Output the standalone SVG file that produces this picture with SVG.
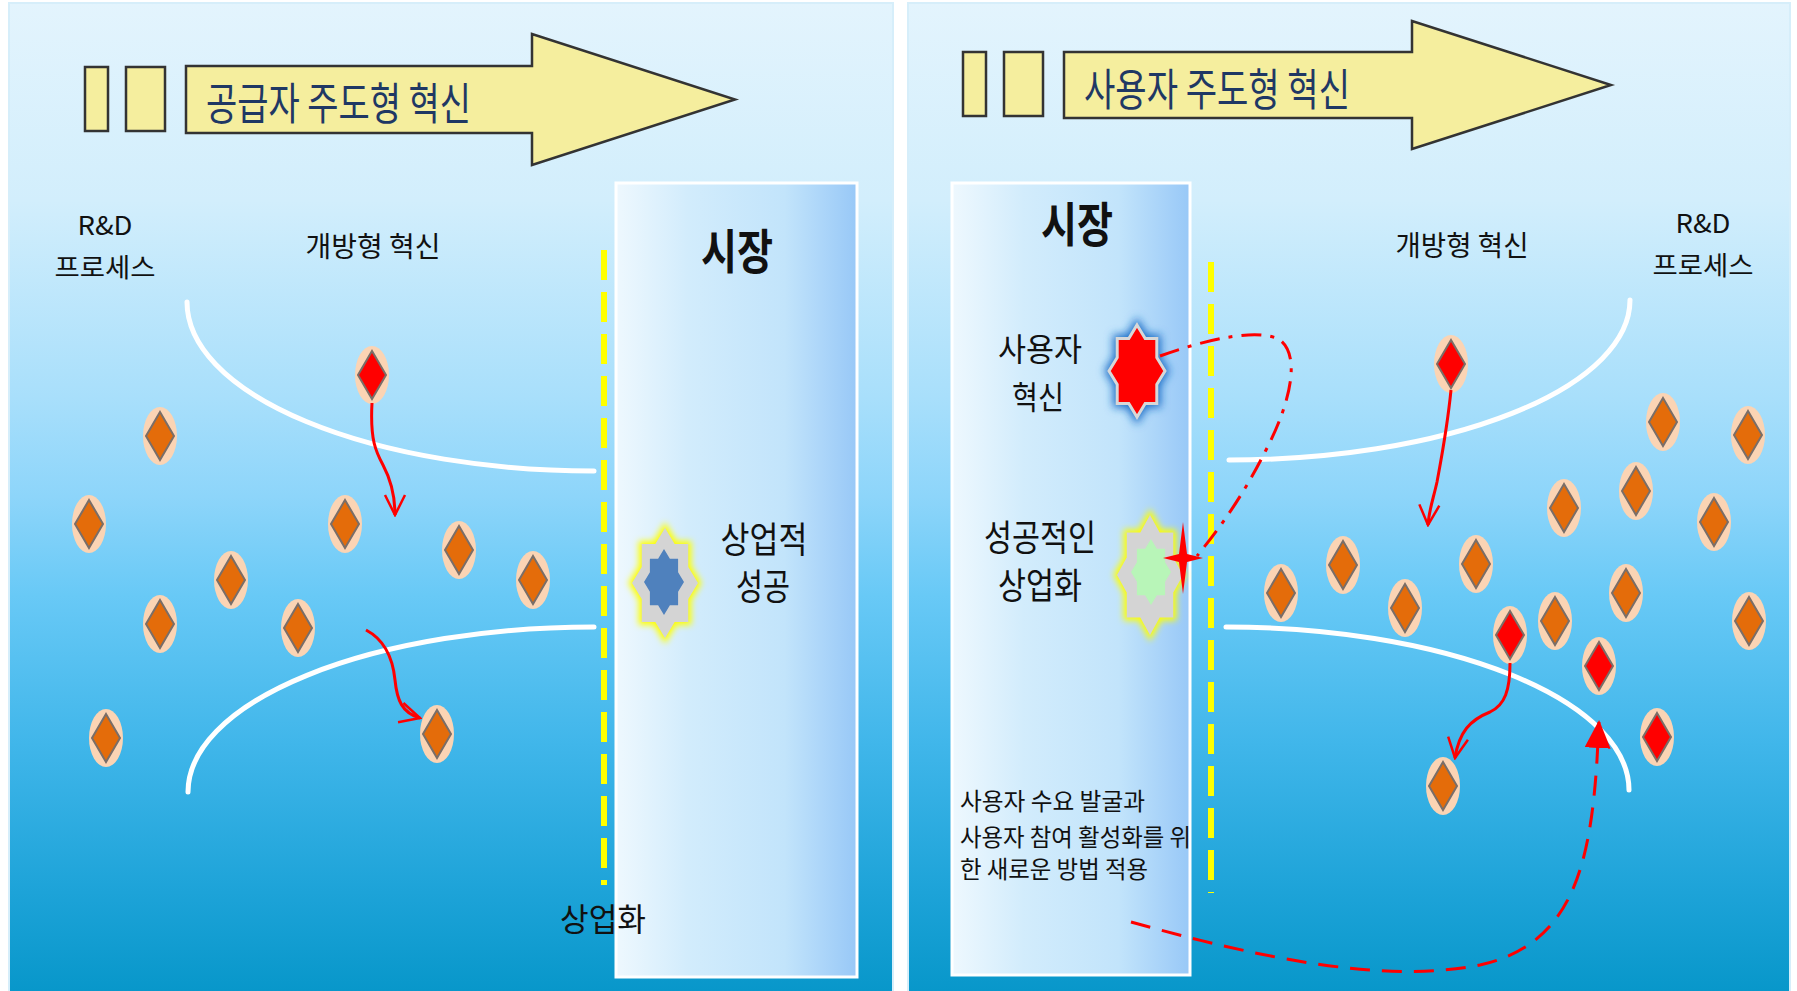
<svg xmlns="http://www.w3.org/2000/svg" xmlns:xlink="http://www.w3.org/1999/xlink" width="1797" height="991" viewBox="0 0 1797 991">
  <style>
    text { font-family: "Noto Sans CJK KR", "Noto Sans", sans-serif; fill: #111; }
    .title { font-size: 44px; fill: #1f3864; }
    .label { font-size: 26px; }
    .mid { font-size: 28px; }
    .big { font-size: 48px; font-weight: bold; }
    .node { font-size: 36px; }
    .note { font-size: 24px; }
    .banner { fill: #f5ee9e; stroke: #333; stroke-width: 2.5; stroke-linejoin: miter; }
    .arc { fill: none; stroke: #fff; stroke-width: 5; stroke-linecap: round; }
    .gate { stroke: #ffff00; stroke-width: 6; stroke-dasharray: 30 12; fill: none; }
    .flow { fill: none; stroke: #ff0000; stroke-width: 3; }
  </style>
  <defs>
    <linearGradient id="sky" x1="0" y1="3" x2="0" y2="991" gradientUnits="userSpaceOnUse">
      <stop offset="0" stop-color="#e3f4fd"/>
      <stop offset="0.2" stop-color="#d2eefc"/>
      <stop offset="0.4" stop-color="#a8dffb"/>
      <stop offset="0.5" stop-color="#8dd5fa"/>
      <stop offset="0.6" stop-color="#68c9f6"/>
      <stop offset="0.75" stop-color="#40b6ea"/>
      <stop offset="0.9" stop-color="#1da3d8"/>
      <stop offset="1" stop-color="#0897ca"/>
    </linearGradient>
    <linearGradient id="market" x1="0" y1="0" x2="1" y2="0">
      <stop offset="0" stop-color="#eef8fe"/>
      <stop offset="0.3" stop-color="#d2ecfc"/>
      <stop offset="0.7" stop-color="#c2e4fb"/>
      <stop offset="1" stop-color="#98c8f7"/>
    </linearGradient>
    <filter id="soft" x="-50%" y="-50%" width="200%" height="200%">
      <feGaussianBlur stdDeviation="3"/>
    </filter>
    <filter id="softer" x="-50%" y="-50%" width="200%" height="200%">
      <feGaussianBlur stdDeviation="4.5"/>
    </filter>
    <g id="dOrange">
      <ellipse rx="17" ry="29" fill="#fbd4b4"/>
      <path d="M0,-24 L14,0 L0,24 L-14,0Z" fill="#e46c0a" stroke="#7a6e68" stroke-width="2"/>
    </g>
    <g id="dRed">
      <ellipse rx="17" ry="29" fill="#fbd4b4"/>
      <path d="M0,-24 L14,0 L0,24 L-14,0Z" fill="#ff0000" stroke="#7a6e68" stroke-width="2"/>
    </g>
    <marker id="vee" viewBox="0 0 24 24" refX="22" refY="12" markerWidth="24" markerHeight="24" markerUnits="userSpaceOnUse" orient="auto">
      <path d="M2,2 L22,12 L2,22" fill="none" stroke="#ff0000" stroke-width="2.5"/>
    </marker>
    <marker id="tri" viewBox="0 0 28 26" refX="26" refY="13" markerWidth="28" markerHeight="26" markerUnits="userSpaceOnUse" orient="auto">
      <path d="M0,0 L28,13 L0,26Z" fill="#ff0000"/>
    </marker>
  </defs>

  <rect width="1797" height="991" fill="#fff"/>

  <!-- two panels -->
  <rect x="9" y="3" width="884" height="990" fill="url(#sky)" stroke="#d6eefa" stroke-width="2"/>
  <rect x="908" y="3" width="882" height="990" fill="url(#sky)" stroke="#d6eefa" stroke-width="2"/>

  <!-- ===== left panel: supplier-led ===== -->
  <g id="banner-supplier">
    <rect class="banner" x="85" y="67" width="23" height="64"/>
    <rect class="banner" x="126" y="67" width="39" height="64"/>
    <polygon class="banner" points="186,66 532,66 532,34 735,99.5 532,165 532,133 186,133"/>
    <text class="title" x="206" y="120" textLength="265" lengthAdjust="spacingAndGlyphs">공급자 주도형 혁신</text>
  </g>

  <g id="rd-left">
    <text class="label" x="105" y="235" text-anchor="middle" textLength="55" lengthAdjust="spacingAndGlyphs">R&amp;D</text>
    <text class="label" x="105" y="277" text-anchor="middle" textLength="101" lengthAdjust="spacingAndGlyphs">프로세스</text>
  </g>
  <g id="open-left">
    <text class="mid" x="373" y="257" text-anchor="middle" textLength="135" lengthAdjust="spacingAndGlyphs">개방형 혁신</text>
  </g>

  <g id="funnel-left">
    <path class="arc" d="M187,302 A407,169 0 0 0 594,471"/>
    <path class="arc" d="M188,792 A406,165 0 0 1 594,627"/>
  </g>

  <g id="market-left">
    <rect x="616" y="183" width="241" height="794" fill="url(#market)" stroke="#fff" stroke-width="3"/>
    <text class="big" x="737" y="269" text-anchor="middle" textLength="72" lengthAdjust="spacingAndGlyphs">시장</text>
  </g>

  <g id="gate-left">
    <line class="gate" x1="604" y1="250" x2="604" y2="885"/>
    <text class="mid" x="603" y="931" text-anchor="middle" textLength="86" lengthAdjust="spacingAndGlyphs" style="font-size:32px">상업화</text>
  </g>

  <g id="success-left">
    <polygon points="665,528 674.7,544.1 688.3,544.1 688.3,566.9 698,583 688.3,599.1 688.3,621.9 674.7,621.9 665,638 655.3,621.9 641.7,621.9 641.7,599.1 632,583 641.7,566.9 641.7,544.1 655.3,544.1" fill="#ffff00" stroke="#ffff00" stroke-width="6" filter="url(#soft)"/>
    <polygon points="665,528 674.7,544.1 688.3,544.1 688.3,566.9 698,583 688.3,599.1 688.3,621.9 674.7,621.9 665,638 655.3,621.9 641.7,621.9 641.7,599.1 632,583 641.7,566.9 641.7,544.1 655.3,544.1" fill="#d4d4d4"/>
    <polygon points="664,549 669.9,558.7 678.1,558.7 678.1,572.3 684,582 678.1,591.7 678.1,605.3 669.9,605.3 664,615 658.1,605.3 649.9,605.3 649.9,591.7 644,582 649.9,572.3 649.9,558.7 658.1,558.7" fill="#4f81bd"/>
    <text class="node" x="764" y="553" text-anchor="middle" textLength="87" lengthAdjust="spacingAndGlyphs">상업적</text>
    <text class="node" x="763" y="600" text-anchor="middle" textLength="54" lengthAdjust="spacingAndGlyphs">성공</text>
  </g>

  <g id="ideas-left">
    <use id="l-red" href="#dRed" x="372" y="375"/>
    <use id="l1" href="#dOrange" x="160" y="436"/>
    <use id="l2" href="#dOrange" x="89" y="524"/>
    <use id="l3" href="#dOrange" x="345" y="524"/>
    <use id="l4" href="#dOrange" x="459" y="550"/>
    <use id="l5" href="#dOrange" x="231" y="580"/>
    <use id="l6" href="#dOrange" x="533" y="580"/>
    <use id="l7" href="#dOrange" x="160" y="624"/>
    <use id="l8" href="#dOrange" x="298" y="628"/>
    <use id="l9" href="#dOrange" x="106" y="738"/>
    <use id="l10" href="#dOrange" x="437" y="734"/>
  </g>

  <!-- ===== right panel: user-led ===== -->
  <g id="banner-user">
    <rect class="banner" x="963" y="52" width="23" height="64"/>
    <rect class="banner" x="1004" y="52" width="39" height="64"/>
    <polygon class="banner" points="1064,52 1412,52 1412,21 1611,85 1412,149 1412,118 1064,118"/>
    <text class="title" x="1084" y="106" textLength="266" lengthAdjust="spacingAndGlyphs">사용자 주도형 혁신</text>
  </g>

  <g id="rd-right">
    <text class="label" x="1703" y="233" text-anchor="middle" textLength="55" lengthAdjust="spacingAndGlyphs">R&amp;D</text>
    <text class="label" x="1703" y="275" text-anchor="middle" textLength="101" lengthAdjust="spacingAndGlyphs">프로세스</text>
  </g>
  <g id="open-right">
    <text class="mid" x="1462" y="256" text-anchor="middle" textLength="133" lengthAdjust="spacingAndGlyphs">개방형 혁신</text>
  </g>

  <g id="funnel-right">
    <path class="arc" d="M1630,300 A401,160 0 0 1 1229,460"/>
    <path class="arc" d="M1226,627 A403,163 0 0 1 1629,790"/>
  </g>

  <g id="gate-right">
    <line class="gate" x1="1211" y1="262" x2="1211" y2="893"/>
  </g>

  <g id="market-right">
    <rect x="952" y="183" width="238" height="792" fill="url(#market)" stroke="#fff" stroke-width="3"/>
    <text class="big" x="1077" y="242" text-anchor="middle" textLength="72" lengthAdjust="spacingAndGlyphs">시장</text>
  </g>

  <g id="user-innovation">
    <polygon points="1137,325 1145.2,338.5 1156.8,338.5 1156.8,357.5 1165,371 1156.8,384.5 1156.8,403.5 1145.2,403.5 1137,417 1128.8,403.5 1117.2,403.5 1117.2,384.5 1109,371 1117.2,357.5 1117.2,338.5 1128.8,338.5" fill="#1e6fc8" stroke="#1e6fc8" stroke-width="8" filter="url(#softer)"/>
    <polygon points="1137,325 1145.2,338.5 1156.8,338.5 1156.8,357.5 1165,371 1156.8,384.5 1156.8,403.5 1145.2,403.5 1137,417 1128.8,403.5 1117.2,403.5 1117.2,384.5 1109,371 1117.2,357.5 1117.2,338.5 1128.8,338.5" fill="#ff0000" stroke="#d8d8d8" stroke-width="3"/>
    <text class="node" x="1040" y="361" text-anchor="middle" textLength="84" lengthAdjust="spacingAndGlyphs" style="font-size:32px">사용자</text>
    <text class="node" x="1038" y="409" text-anchor="middle" textLength="52" lengthAdjust="spacingAndGlyphs" style="font-size:32px">혁신</text>
  </g>

  <g id="successful-commercialization">
    <polygon points="1150,515 1159.7,532.6 1173.3,532.6 1173.3,557.4 1183,575 1173.3,592.6 1173.3,617.4 1159.7,617.4 1150,635 1140.3,617.4 1126.7,617.4 1126.7,592.6 1117,575 1126.7,557.4 1126.7,532.6 1140.3,532.6" fill="#ffff00" stroke="#ffff00" stroke-width="6" filter="url(#soft)"/>
    <polygon points="1150,515 1159.7,532.6 1173.3,532.6 1173.3,557.4 1183,575 1173.3,592.6 1173.3,617.4 1159.7,617.4 1150,635 1140.3,617.4 1126.7,617.4 1126.7,592.6 1117,575 1126.7,557.4 1126.7,532.6 1140.3,532.6" fill="#d4d4d4"/>
    <polygon points="1151,539 1156.9,548.7 1165.1,548.7 1165.1,562.3 1171,572 1165.1,581.7 1165.1,595.3 1156.9,595.3 1151,605 1145.1,595.3 1136.9,595.3 1136.9,581.7 1131,572 1136.9,562.3 1136.9,548.7 1145.1,548.7" fill="#b8f5b8"/>
    <polygon points="1183,522 1187,554 1203,558 1187,562 1183,594 1179,562 1163,558 1179,554" fill="#ff0000"/>
    <text class="node" x="1040" y="551" text-anchor="middle" textLength="112" lengthAdjust="spacingAndGlyphs">성공적인</text>
    <text class="node" x="1040" y="599" text-anchor="middle" textLength="84" lengthAdjust="spacingAndGlyphs">상업화</text>
  </g>

  <g id="method-note">
    <text class="note" x="960" y="810" textLength="185" lengthAdjust="spacingAndGlyphs">사용자 수요 발굴과</text>
    <text class="note" x="960" y="846" textLength="231" lengthAdjust="spacingAndGlyphs">사용자 참여 활성화를 위</text>
    <text class="note" x="960" y="878" textLength="188" lengthAdjust="spacingAndGlyphs">한 새로운 방법 적용</text>
  </g>

  <g id="ideas-right">
    <use id="r-red1" href="#dRed" x="1451" y="364"/>
    <use id="r1" href="#dOrange" x="1663" y="422"/>
    <use id="r2" href="#dOrange" x="1748" y="435"/>
    <use id="r3" href="#dOrange" x="1636" y="491"/>
    <use id="r4" href="#dOrange" x="1564" y="508"/>
    <use id="r5" href="#dOrange" x="1714" y="522"/>
    <use id="r6" href="#dOrange" x="1343" y="565"/>
    <use id="r7" href="#dOrange" x="1476" y="564"/>
    <use id="r8" href="#dOrange" x="1281" y="593"/>
    <use id="r9" href="#dOrange" x="1405" y="608"/>
    <use id="r10" href="#dOrange" x="1626" y="593"/>
    <use id="r11" href="#dOrange" x="1555" y="621"/>
    <use id="r12" href="#dOrange" x="1749" y="621"/>
    <use id="r-red2" href="#dRed" x="1510" y="635"/>
    <use id="r-red3" href="#dRed" x="1599" y="666"/>
    <use id="r-red4" href="#dRed" x="1657" y="737"/>
    <use id="r13" href="#dOrange" x="1443" y="786"/>
  </g>

  <!-- connectors -->
  <g id="connectors">
    <path class="flow" d="M372,403 C370,440 376,452 383,465 C391,480 395,495 395,515" marker-end="url(#vee)"/>
    <path class="flow" d="M366,630 C385,640 393,660 395,680 C397,700 402,713 420,718" marker-end="url(#vee)"/>
    <path class="flow" d="M1451,390 C1447,430 1441,460 1437,482 C1433,500 1429,510 1428,525" marker-end="url(#vee)"/>
    <path class="flow" d="M1510,663 C1510,690 1505,705 1490,712 C1470,720 1459,732 1455,758" marker-end="url(#vee)"/>
    <path class="flow" d="M1160,356 C1210,338 1260,328 1280,340 C1300,355 1292,400 1266,450 C1242,498 1218,530 1197,556" stroke-width="4" stroke-dasharray="20 9 4 9"/>
    <path class="flow" d="M1131,922 C1250,955 1380,985 1480,965 C1570,945 1590,870 1597,760 L1599,722" stroke-width="5" stroke-dasharray="20 12" marker-end="url(#tri)"/>
  </g>
</svg>
